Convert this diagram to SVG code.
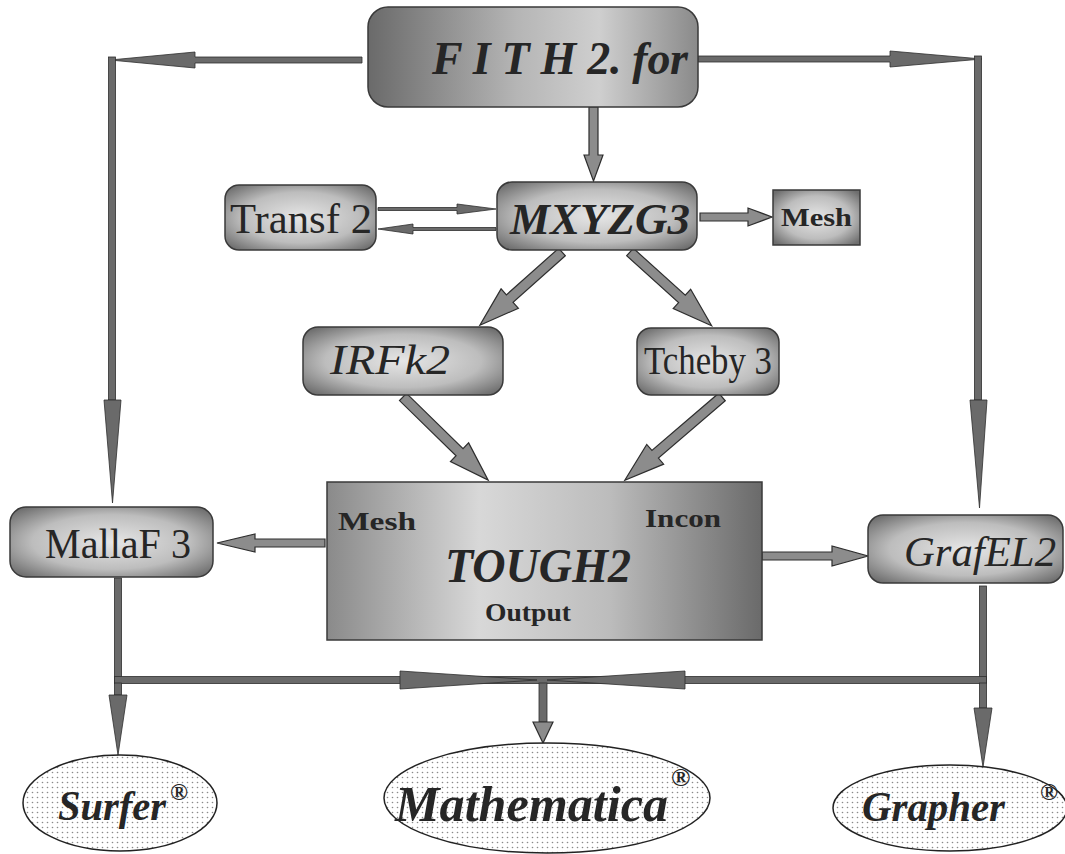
<svg xmlns="http://www.w3.org/2000/svg" width="1065" height="854" viewBox="0 0 1065 854">
<defs>
  <pattern id="dots" width="5" height="5" patternUnits="userSpaceOnUse">
    <rect width="5" height="5" fill="#ffffff"/>
    <circle cx="2.5" cy="2.5" r="0.8" fill="#8a8a8a"/>
  </pattern>
  <radialGradient id="boxg" cx="50%" cy="50%" r="65%">
    <stop offset="0" stop-color="#e6e6e6"/>
    <stop offset="0.6" stop-color="#bdbdbd"/>
    <stop offset="1" stop-color="#6e6e6e"/>
  </radialGradient>
  <linearGradient id="fithg" x1="0" y1="0" x2="1" y2="0">
    <stop offset="0" stop-color="#6a6a6a"/>
    <stop offset="0.45" stop-color="#b5b5b5"/>
    <stop offset="0.7" stop-color="#cfcfcf"/>
    <stop offset="1" stop-color="#8a8a8a"/>
  </linearGradient>
  <linearGradient id="toughg" x1="0" y1="0" x2="1" y2="0">
    <stop offset="0" stop-color="#8a8a8a"/>
    <stop offset="0.35" stop-color="#d8d8d8"/>
    <stop offset="0.65" stop-color="#bcbcbc"/>
    <stop offset="1" stop-color="#6a6a6a"/>
  </linearGradient>
  <style>
    .box { stroke:#3a3a3a; stroke-width:1.5; }
    .arr { fill:#8c8c8c; stroke:#2e2e2e; stroke-width:1.2; stroke-linejoin:miter; }
    .ln { fill:#6a6a6a; stroke:#2e2e2e; stroke-width:0.8; }
    .ell { fill:url(#dots); stroke:#222; stroke-width:1.5; }
    .t { font-family:"Liberation Serif", "Times New Roman", serif; fill:#262626; }
    .bi { font-weight:bold; font-style:italic; }
    .b { font-weight:bold; }
    .i { font-style:italic; }
  </style>
</defs>

<g id="connectors">
  <!-- FITH left -->
  <polygon class="ln" points="362,57 195,57 195,52 110,60 195,68 195,63 362,63"/>
  <rect class="ln" x="108.5" y="57" width="7" height="343"/>
  <polygon class="ln" points="104,400 121,400 112.5,503"/>
  <!-- FITH right -->
  <polygon class="ln" points="698,56 890,56 890,51 982,59 890,67 890,62 698,62"/>
  <rect class="ln" x="974.5" y="56" width="7" height="344"/>
  <polygon class="ln" points="970,400 987,400 979.5,508"/>
  <!-- FITH down -->
  <polygon class="arr" points="589,107 598,107 598,155 603,155 593.5,181 584,155 589,155"/>
  <!-- Transf <-> MXYZG3 -->
  <polygon class="ln" points="378,207.5 457,207.5 457,204 496,209 457,214 457,210.5 378,210.5"/>
  <polygon class="ln" points="496,227.5 413,227.5 413,224 378,229 413,234 413,230.5 496,230.5"/>
  <!-- MXYZG3 -> Mesh -->
  <polygon class="arr" points="700,213 748,213 748,208 772,217 748,226 748,221 700,221"/>
  <!-- diagonals -->
  <path class="arr" d="M0,-5 H70 V-13 L110,0 L70,13 V5 H0 Z" transform="translate(562,252) rotate(138.3)"/>
  <path class="arr" d="M0,-5 H70 V-13 L110,0 L70,13 V5 H0 Z" transform="translate(630,252) rotate(42.1)"/>
  <path class="arr" d="M0,-5 H79 V-13 L119,0 L79,13 V5 H0 Z" transform="translate(403,397) rotate(44.3)"/>
  <path class="arr" d="M0,-5 H88 V-13 L128,0 L88,13 V5 H0 Z" transform="translate(722,397) rotate(139.4)"/>
  <!-- TOUGH2 -> MallaF3 / GrafEL2 -->
  <polygon class="arr" points="325,539 255,539 255,534 217,543 255,552 255,547 325,547"/>
  <polygon class="arr" points="762,552 832,552 832,546 868,556 832,566 832,560 762,560"/>
  <!-- bottom collector -->
  <rect class="ln" x="114.5" y="578" width="7" height="105"/>
  <rect class="ln" x="979.5" y="586" width="7" height="97"/>
  <rect class="ln" x="114.5" y="676.5" width="872" height="7"/>
  <polygon class="ln" points="400,671 537,680 400,689"/>
  <polygon class="ln" points="685,671 547,680 685,689"/>
  <!-- down to outputs -->
  <rect class="ln" x="114.5" y="683" width="7" height="12"/>
  <polygon class="ln" points="109,695 127,695 118,755"/>
  <rect class="ln" x="539" y="683" width="8" height="39"/>
  <polygon class="arr" points="533,722 553,722 543,743"/>
  <rect class="ln" x="979.5" y="683" width="7" height="25"/>
  <polygon class="ln" points="974,708 992,708 983,767"/>
</g>

<g id="fith">
  <rect class="box" x="368" y="7" width="330" height="100" rx="20" fill="url(#fithg)"/>
  <text class="t bi" x="432" y="74" font-size="46" textLength="256" lengthAdjust="spacing" fill="#333">F I T H 2. for</text>
</g>
<g id="transf2">
  <rect class="box" x="225" y="185" width="151" height="65" rx="14" fill="url(#boxg)"/>
  <text class="t" x="230" y="233" font-size="42" textLength="142" lengthAdjust="spacingAndGlyphs">Transf 2</text>
</g>
<g id="mxyzg3">
  <rect class="box" x="497" y="182" width="200" height="68" rx="15" fill="url(#boxg)"/>
  <text class="t bi" x="510" y="234" font-size="44" textLength="180" lengthAdjust="spacingAndGlyphs">MXYZG3</text>
</g>
<g id="mesh">
  <rect class="box" x="773" y="190" width="87" height="55" fill="url(#boxg)"/>
  <text class="t b" x="781" y="226" font-size="25" textLength="71" lengthAdjust="spacingAndGlyphs">Mesh</text>
</g>
<g id="irfk2">
  <rect class="box" x="303" y="327" width="200" height="68" rx="15" fill="url(#boxg)"/>
  <text class="t i" x="330" y="374" font-size="42" textLength="120" lengthAdjust="spacingAndGlyphs">IRFk2</text>
</g>
<g id="tcheby3">
  <rect class="box" x="637" y="328" width="142" height="67" rx="14" fill="url(#boxg)"/>
  <text class="t" x="644" y="374" font-size="40" textLength="128" lengthAdjust="spacingAndGlyphs">Tcheby 3</text>
</g>
<g id="tough2">
  <rect class="box" x="327" y="482" width="435" height="158" fill="url(#toughg)"/>
  <text class="t b" x="338" y="530" font-size="25" textLength="78" lengthAdjust="spacingAndGlyphs">Mesh</text>
  <text class="t b" x="645" y="527" font-size="25" textLength="76" lengthAdjust="spacingAndGlyphs">Incon</text>
  <text class="t bi" x="445" y="582" font-size="48" textLength="186" lengthAdjust="spacingAndGlyphs">TOUGH2</text>
  <text class="t b" x="485" y="621" font-size="25" textLength="86" lengthAdjust="spacingAndGlyphs">Output</text>
</g>
<g id="mallaf3">
  <rect class="box" x="10" y="507" width="203" height="70" rx="16" fill="url(#boxg)"/>
  <text class="t" x="45" y="558" font-size="42" textLength="146" lengthAdjust="spacingAndGlyphs">MallaF 3</text>
</g>
<g id="grafel2">
  <rect class="box" x="868" y="515" width="195" height="68" rx="15" fill="url(#boxg)"/>
  <text class="t i" x="904" y="566" font-size="42" textLength="152" lengthAdjust="spacingAndGlyphs">GrafEL2</text>
</g>
<g id="surfer">
  <ellipse class="ell" cx="120" cy="803" rx="97" ry="48"/>
  <text class="t bi" x="58" y="820" font-size="42" textLength="108" lengthAdjust="spacingAndGlyphs">Surfer</text>
  <text class="t b" x="170" y="800" font-size="24">®</text>
</g>
<g id="mathematica">
  <ellipse class="ell" cx="547" cy="798" rx="163" ry="55"/>
  <text class="t bi" x="395" y="821" font-size="50" textLength="273" lengthAdjust="spacingAndGlyphs">Mathematica</text>
  <text class="t b" x="671" y="786" font-size="26">®</text>
</g>
<g id="grapher">
  <ellipse class="ell" cx="950" cy="808" rx="117" ry="43"/>
  <text class="t bi" x="862" y="821" font-size="42" textLength="143" lengthAdjust="spacingAndGlyphs">Grapher</text>
  <text class="t b" x="1040" y="800" font-size="24">®</text>
</g>
</svg>
